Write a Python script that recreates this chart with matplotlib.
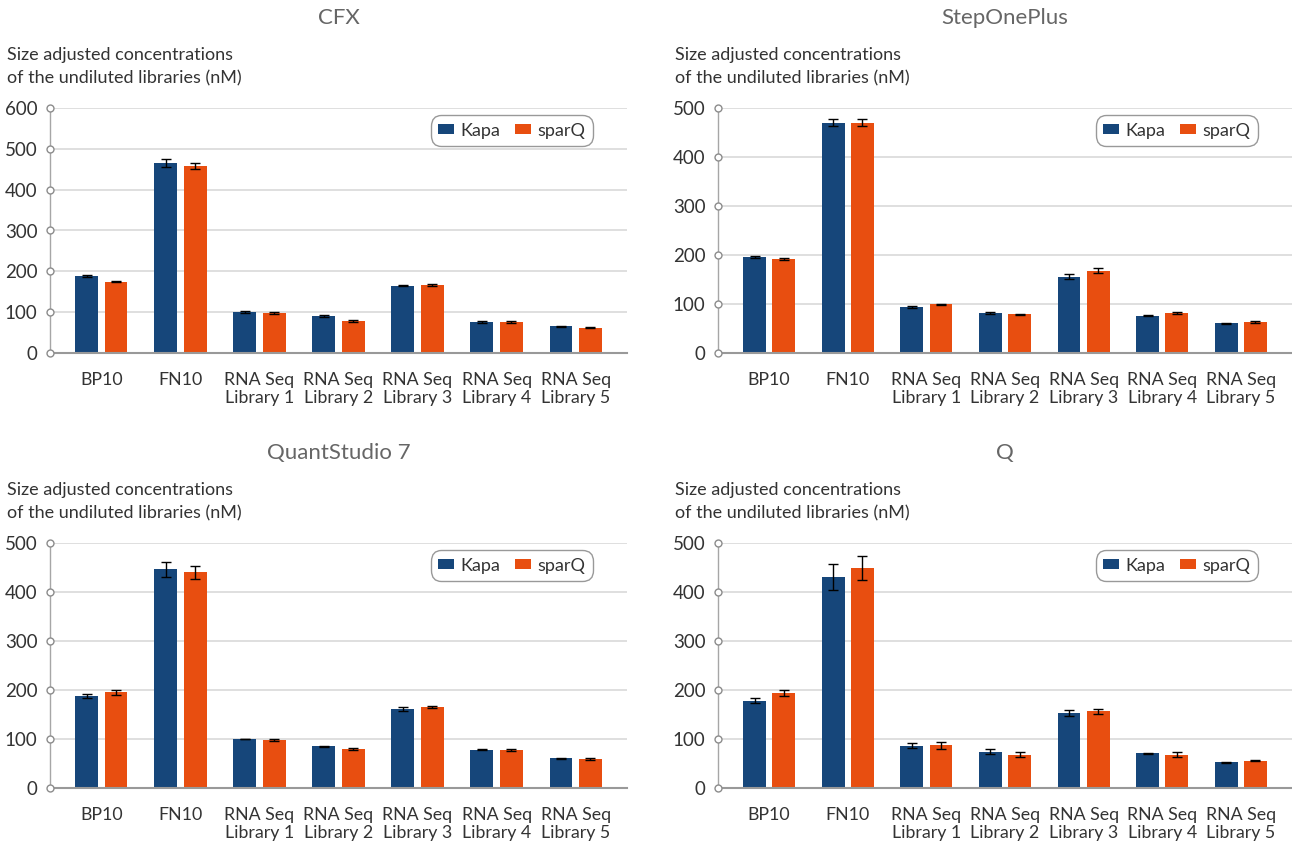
import numpy as np
import matplotlib
matplotlib.use('Agg')
import matplotlib.pyplot as plt
from matplotlib.patches import Patch

plt.rcParams['font.family'] = ['Lato', 'DejaVu Sans']

# Categories and series
categorias = ['BP10', 'FN10', 'RNA Seq\nLibrary 1', 'RNA Seq\nLibrary 2',
              'RNA Seq\nLibrary 3', 'RNA Seq\nLibrary 4', 'RNA Seq\nLibrary 5']

titulos = ['CFX', 'StepOnePlus', 'QuantStudio 7', 'Q']
y_max = [600, 500, 500, 500]

# CFX
cfx_kapa = [188, 465, 101, 91, 165, 76, 65]
cfx_kapa_err = [3, 9, 2, 2, 2, 2, 2]
cfx_sparq = [175, 458, 98, 79, 167, 76, 62]
cfx_sparq_err = [2, 8, 2, 2, 2, 2, 2]

# StepOnePlus
sop_kapa = [195, 470, 94, 81, 156, 76, 61]
sop_kapa_err = [2, 7, 2, 2, 5, 1, 1]
sop_sparq = [192, 470, 99, 79, 168, 82, 63]
sop_sparq_err = [2, 7, 2, 1, 5, 2, 2]

# QuantStudio 7
qs7_kapa = [187, 446, 100, 85, 162, 78, 61]
qs7_kapa_err = [4, 16, 1, 1, 4, 1, 1]
qs7_sparq = [195, 440, 97, 79, 165, 77, 60]
qs7_sparq_err = [5, 13, 2, 2, 2, 2, 2]

# Q
q_kapa = [178, 431, 86, 74, 153, 71, 53]
q_kapa_err = [5, 26, 5, 5, 7, 1, 1]
q_sparq = [194, 449, 87, 68, 157, 68, 56]
q_sparq_err = [7, 24, 7, 5, 5, 5, 1]

kapa = [cfx_kapa, sop_kapa, qs7_kapa, q_kapa]
kapa_err = [cfx_kapa_err, sop_kapa_err, qs7_kapa_err, q_kapa_err]
sparq = [cfx_sparq, sop_sparq, qs7_sparq, q_sparq]
sparq_err = [cfx_sparq_err, sop_sparq_err, qs7_sparq_err, q_sparq_err]

cor_kapa = '#16467a'
cor_sparq = '#e84e10'
cinza_texto = '#333333'

W, H = 1292, 842
fig = plt.figure(figsize=(W / 100, H / 100), dpi=100)

# axes boxes in pixels: (left, top, right, bottom)
caixas = [(50, 108, 627, 353), (718, 108, 1292, 353),
          (50, 543, 627, 788), (718, 543, 1292, 788)]

x = np.arange(len(categorias))
larg = 0.29
desl = 0.185

for i in range(4):
    l, t, r, b = caixas[i]
    ax = fig.add_axes([l / W, 1 - b / H, (r - l) / W, (b - t) / H])
    ax.bar(x - desl, kapa[i], larg, color=cor_kapa, label='Kapa', zorder=3)
    ax.bar(x + desl, sparq[i], larg, color=cor_sparq, label='sparQ', zorder=3)
    ax.errorbar(x - desl, kapa[i], yerr=kapa_err[i], fmt='none', ecolor='black',
                elinewidth=1, capsize=3.5, capthick=1, zorder=4)
    ax.errorbar(x + desl, sparq[i], yerr=sparq_err[i], fmt='none', ecolor='black',
                elinewidth=1, capsize=3.5, capthick=1, zorder=4)

    ax.set_xlim(-0.65, len(categorias) - 0.35)
    ax.set_ylim(0, y_max[i])
    ticks = np.arange(0, y_max[i] + 1, 100)
    ax.set_yticks(ticks)
    ax.set_xticks(x)
    ax.set_xticklabels(categorias, fontsize=12.8, color=cinza_texto, linespacing=1.1)
    ax.tick_params(axis='y', length=0, pad=9, labelsize=13.5, labelcolor=cinza_texto)
    ax.tick_params(axis='x', length=0, pad=14)

    ax.grid(axis='y', color='#d9d9d9', linewidth=1.2, zorder=0)
    for s in ['top', 'right']:
        ax.spines[s].set_visible(False)
    ax.spines['left'].set_color('#a6a6a6')
    ax.spines['left'].set_linewidth(1)
    ax.spines['bottom'].set_color('#999999')
    ax.spines['bottom'].set_linewidth(1.5)
    ax.spines['bottom'].set_zorder(5)

    # little open circles on the y axis at each tick
    ax.plot(np.full(len(ticks), ax.get_xlim()[0]), ticks, 'o', ms=5,
            mfc='white', mec='#8c8c8c', mew=1, clip_on=False, zorder=6)

    handles = [Patch(facecolor=cor_kapa, label='Kapa'),
               Patch(facecolor=cor_sparq, label='sparQ')]
    leg = ax.legend(handles=handles, loc='upper right', ncol=2, frameon=True,
                    fancybox=True, fontsize=13, handlelength=0.9, handleheight=0.45,
                    handletextpad=0.35, columnspacing=0.8, borderpad=0.15,
                    borderaxespad=0, bbox_to_anchor=(1 - 39 / (r - l), 1 - 12 / (b - t)))
    leg.get_frame().set_edgecolor('#808080')
    leg.get_frame().set_linewidth(1)
    leg.get_frame().set_boxstyle('round', pad=0.25, rounding_size=0.6)
    for txt in leg.get_texts():
        txt.set_color(cinza_texto)

    # titulo e rotulo do eixo y
    cx = (l + r) / 2
    fig.text(cx / W, 1 - (t - 90) / H, titulos[i], ha='center', va='center',
             fontsize=16, color='#666666')
    fig.text((l - 43) / W, 1 - (t - 53) / H, 'Size adjusted concentrations',
             ha='left', va='center', fontsize=13, color=cinza_texto)
    fig.text((l - 43) / W, 1 - (t - 30) / H, 'of the undiluted libraries (nM)',
             ha='left', va='center', fontsize=13, color=cinza_texto)

fig.savefig('out.png', dpi=100)
